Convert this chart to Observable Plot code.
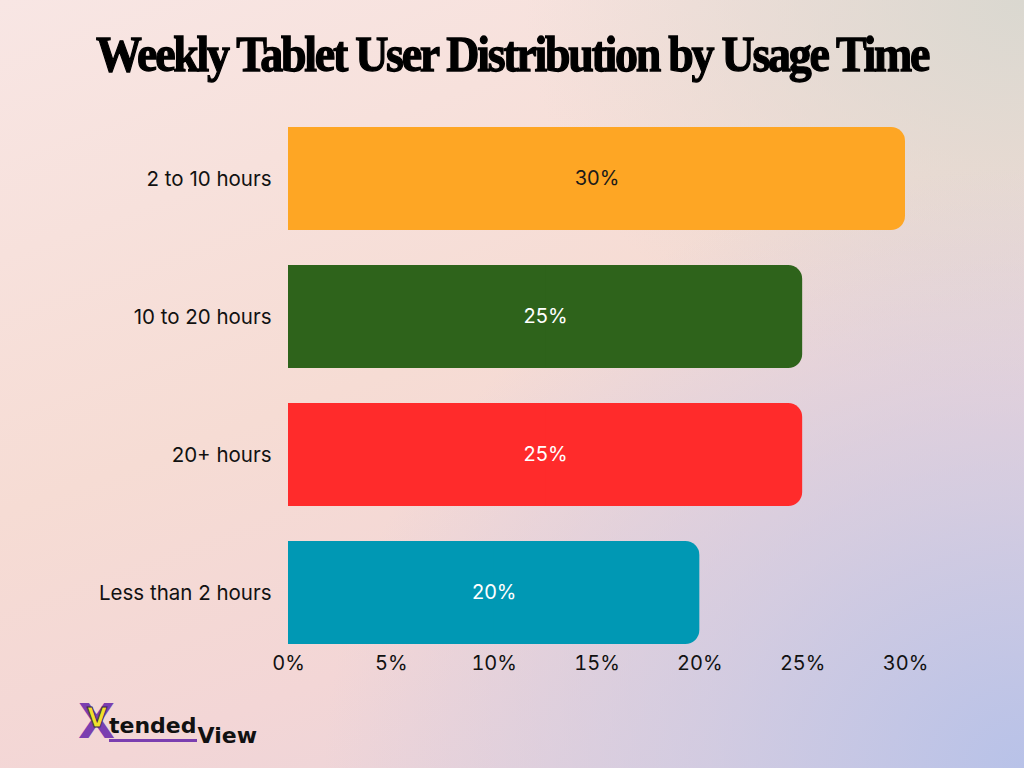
<!DOCTYPE html>
<html>
<head>
<meta charset="utf-8">
<script src="https://cdn.jsdelivr.net/npm/d3@7"></script>
<script src="https://cdn.jsdelivr.net/npm/@observablehq/plot@0.6"></script>
<style>
  html, body { margin: 0; padding: 0; }
  body {
    width: 1024px; height: 768px; overflow: hidden; position: relative;
    background:
      radial-gradient(ellipse 700px 600px at 1024px 768px, rgba(184,194,232,1) 0%, rgba(200,200,228,0.7) 45%, rgba(220,210,225,0) 100%),
      radial-gradient(ellipse 500px 400px at 1024px 0px, rgba(218,216,208,1) 0%, rgba(230,218,210,0) 100%),
      linear-gradient(160deg, #f8e6e4 0%, #f6dcd4 45%, #f3d6d6 70%, #e6d2dc 100%);
    font-family: Inter, "Noto Sans", sans-serif;
  }
  #title {
    position: absolute; top: 22px; left: 0; width: 1024px; text-align: center;
    font-family: "Liberation Serif", "DejaVu Serif", serif; font-weight: 900;
    font-size: 51px; letter-spacing: -2.5px; color: #000; line-height: 64px;
    -webkit-text-stroke: 1.3px #000;
    transform: scaleX(0.9); white-space: nowrap;
  }
  #chart { position: absolute; top: 100px; left: 0; }
  #logo {
    position: absolute; left: 78px; top: 700px; font-family: "DejaVu Sans", sans-serif;
    font-weight: bold; color: #111; display: flex; align-items: flex-end;
  }
  #logo .x { font-size: 48px; line-height: 42px; color: #7b3fb0; font-weight: 900; position: relative; }
  #logo .x::after { content: "V"; position: absolute; left: 9px; top: -3px; font-size: 26px; color: #f1e02a; -webkit-text-stroke: 1px #3a2a50; }
  #logo .t { font-size: 22px; border-bottom: 3px solid #7b3fb0; padding-bottom: 0px; margin-left: -6px; line-height: 26px; }
  #logo .v { font-size: 22px; margin-left: 1px; transform: translateY(6px); }
</style>
</head>
<body>
<div id="title">Weekly Tablet User Distribution by Usage Time</div>
<div id="chart"></div>
<div id="logo"><span class="x">X</span><span class="t">tended</span><span class="v">View</span></div>
<script>
const categories = ["2 to 10 hours", "10 to 20 hours", "20+ hours", "Less than 2 hours"];
const values = [30, 25, 25, 20];
const colors = ["#fea624", "#2e631b", "#ff2b2b", "#0098b4"];
const labelColors = ["#1a1a1a", "#ffffff", "#ffffff", "#ffffff"];
const xTicks = [0, 5, 10, 15, 20, 25, 30];

const data = categories.map((c, i) => ({category: c, value: values[i], color: colors[i], label: labelColors[i]}));

const chart = Plot.plot({
  width: 1024,
  height: 600,
  marginLeft: 288,
  marginRight: 119,
  marginTop: 8,
  marginBottom: 37,
  style: {background: "transparent", fontFamily: "Inter, 'Noto Sans', sans-serif", color: "#111"},
  x: {domain: [0, 30], ticks: xTicks, tickFormat: d => d + "%", tickSize: 0, label: null},
  y: {domain: categories, paddingInner: 0.255, paddingOuter: 0.13, tickSize: 0, label: null},
  marks: [
    Plot.barX(data, {x: "value", y: "category", fill: "color", rx: 14}),
    Plot.barX(data, {x1: 0, x2: d => d.value / 2, y: "category", fill: "color"}),
    Plot.text(data, {x: d => d.value / 2, y: "category", text: d => d.value + "%", fill: "label", fontSize: 20}),
    Plot.axisX({ticks: xTicks, tickFormat: d => d + "%", tickSize: 0, tickPadding: -8, fontSize: 20, anchor: "bottom"}),
    Plot.axisY({tickSize: 0, tickPadding: 17, fontSize: 20.5, anchor: "left"})
  ]
});
document.getElementById("chart").appendChild(chart);
</script>
</body>
</html>
